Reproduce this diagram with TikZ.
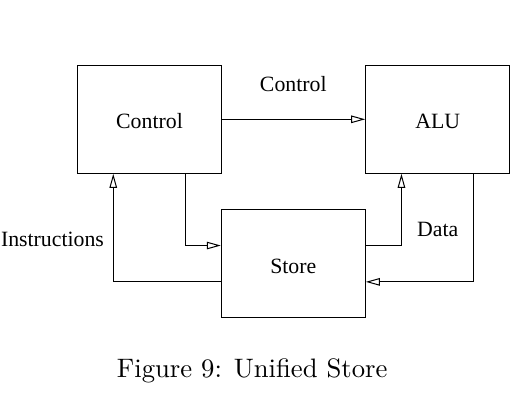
\documentclass[tikz,border=0pt]{standalone}
\usepackage{fontspec}
\setmainfont{Liberation Serif}
\newfontfamily\capfont[Extension=.otf]{lmroman10-regular}
\usetikzlibrary{arrows.meta,calc}
\begin{document}
\begin{tikzpicture}[x=1pt,y=-1pt,
  lblfont/.style={font=\fontsize{21.8}{24}\selectfont},
  box/.style={draw,line width=1pt,minimum width=144pt,minimum height=108pt,
    inner sep=0pt,lblfont,text height=19pt,text depth=0pt},
  lbl/.style={lblfont,inner sep=0pt,anchor=base},
  conn/.style={line width=1pt,-{Triangle[open,length=14pt,width=7.5pt]}}]
\useasboundingbox (0,0) rectangle (513,401);
\node[box] (ctrl)  at (149.5,119.3) {Control};
\node[box] (alu)   at (437.7,119.3) {ALU};
\node[box] (store) at (293.3,263.7) {Store};
% helper points
\coordinate (cq1) at ($(ctrl.south west)!0.25!(ctrl.south east)$);
\coordinate (cq3) at ($(ctrl.south west)!0.75!(ctrl.south east)$);
\coordinate (aq1) at ($(alu.south west)!0.25!(alu.south east)$);
\coordinate (aq3) at ($(alu.south west)!0.75!(alu.south east)$);
\coordinate (sl1) at ($(store.north west)!0.3333!(store.south west)$);
\coordinate (sl2) at ($(store.north west)!0.6667!(store.south west)$);
\coordinate (sr1) at ($(store.north east)!0.3333!(store.south east)$);
\coordinate (sr2) at ($(store.north east)!0.6667!(store.south east)$);
% connectors
\draw[conn] (ctrl.east) -- (alu.west);
\draw[conn] (cq3) |- (sl1);
\draw[conn] (sr1) -| (aq1);
\draw[conn] (aq3) |- (sr2);
\draw[conn] (sl2) -| (cq1);
% labels
\node[lbl] (lctrl) at (293.3,91.7) {Control};
\node[lbl] (ldata) at (437.7,236.7) {Data};
\node[lbl] (linst) at (52.5,246) {Instructions};
\node[inner sep=0pt,anchor=base,font=\capfont\fontsize{26.7}{30}\selectfont] (cap) at (252.2,377.7) {Figure 9: Unified Store};
\end{tikzpicture}
\end{document}
